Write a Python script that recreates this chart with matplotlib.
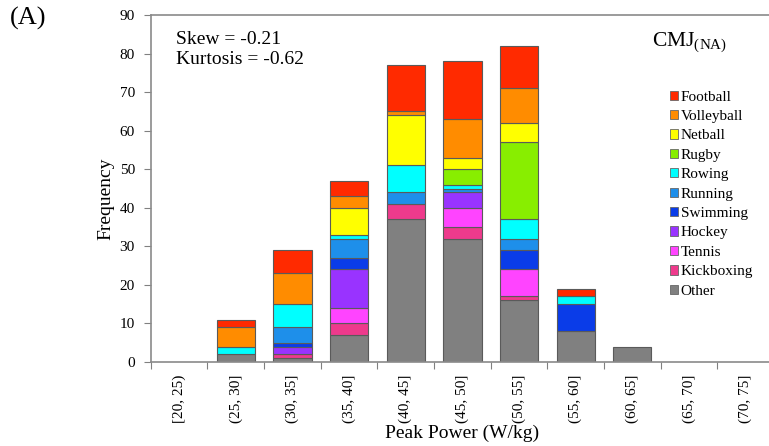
import numpy as np
import matplotlib
matplotlib.use("Agg")
import matplotlib.pyplot as plt
from matplotlib.patches import Patch

plt.rcParams['font.family'] = ['Liberation Serif', 'DejaVu Serif']
plt.rcParams['mathtext.fontset'] = 'custom'
plt.rcParams['mathtext.rm'] = 'Liberation Serif'
plt.rcParams['mathtext.it'] = 'Liberation Serif:italic'

bins = ["[20, 25)", "(25, 30]", "(30, 35]", "(35, 40]", "(40, 45]", "(45, 50]",
        "(50, 55]", "(55, 60]", "(60, 65]", "(65, 70]", "(70, 75]"]

other      = [0, 2, 1, 7, 37, 32, 16, 8, 4, 0, 0]
kickboxing = [0, 0, 1, 3, 4, 3, 1, 0, 0, 0, 0]
tennis     = [0, 0, 0, 4, 0, 5, 7, 0, 0, 0, 0]
hockey     = [0, 0, 2, 10, 0, 4, 0, 0, 0, 0, 0]
swimming   = [0, 0, 1, 3, 0, 0, 5, 7, 0, 0, 0]
running    = [0, 0, 4, 5, 3, 1, 3, 0, 0, 0, 0]
rowing     = [0, 2, 6, 1, 7, 1, 5, 2, 0, 0, 0]
rugby      = [0, 0, 0, 0, 0, 4, 20, 0, 0, 0, 0]
netball    = [0, 0, 0, 7, 13, 3, 5, 0, 0, 0, 0]
volleyball = [0, 5, 8, 3, 1, 10, 9, 0, 0, 0, 0]
football   = [0, 2, 6, 4, 12, 15, 11, 2, 0, 0, 0]

series = [
    ("Other", other, "#808080"),
    ("Kickboxing", kickboxing, "#EE3A8C"),
    ("Tennis", tennis, "#FF44FF"),
    ("Hockey", hockey, "#9933FF"),
    ("Swimming", swimming, "#0A3CE8"),
    ("Running", running, "#1E8FEA"),
    ("Rowing", rowing, "#00FFFF"),
    ("Rugby", rugby, "#88EE00"),
    ("Netball", netball, "#FFFF00"),
    ("Volleyball", volleyball, "#FF8C00"),
    ("Football", football, "#FF2A00"),
]

fig = plt.figure(figsize=(7.69, 4.46), dpi=100)
ax = fig.add_axes([150.8 / 769, (446 - 362) / 446, (774 - 150.8) / 769, (362 - 15) / 446])

x = np.arange(len(bins))
bottom = np.zeros(len(bins))
handles = []
for name, vals, col in series:
    v = np.array(vals, dtype=float)
    lw = [0.8 if val > 0 else 0 for val in v]
    ax.bar(x, v, bottom=bottom, width=0.675, color=col, edgecolor="#5a5a5a", linewidth=lw)
    bottom += v
    handles.append(Patch(facecolor=col, edgecolor="#666666", linewidth=0.6, label=name))

ax.set_xlim(-0.5, len(bins) - 0.5)
ax.set_ylim(0, 90)
ax.set_yticks(np.arange(0, 91, 10))
ax.set_xticks(np.arange(-0.5, len(bins), 1.0))
ax.set_xticklabels([])
ax.set_xticks(x, minor=True)
ax.set_xticklabels(bins, minor=True, rotation=90, fontsize=11)
ax.tick_params(axis='x', which='minor', length=0, pad=9)
ax.tick_params(axis='x', which='major', direction='out', length=5, color="#808080")
ax.tick_params(axis='y', direction='out', length=5, color="#808080", labelsize=11, pad=6.5)

for s in ['left', 'bottom', 'top']:
    ax.spines[s].set_color("#8a8a8a")
    ax.spines[s].set_linewidth(1.2)
ax.spines['right'].set_visible(False)

ax.set_ylabel("Frequency", fontsize=14)
ax.yaxis.set_label_coords(-0.058, 0.47)
ax.set_xlabel("Peak Power (W/kg)", fontsize=14)
ax.xaxis.set_label_coords(0.5, -0.18)

fig.text(10 / 769, 1 - 18 / 446, "(A)", fontsize=19, va='center', ha='left')
fig.text(176 / 769, 1 - 40 / 446, "Skew = -0.21", fontsize=14, va='center', ha='left')
fig.text(176 / 769, 1 - 60 / 446, "Kurtosis = -0.62", fontsize=14, va='center', ha='left')

fig.text(652 / 769, 1 - 42 / 446, r"CMJ$_{\mathrm{(NA)}}$", fontsize=15.5, va='center', ha='left')

leg = fig.legend(handles=handles[::-1], loc='upper left',
                 bbox_to_anchor=(670 / 769, 1 - 90.5 / 446), frameon=False,
                 fontsize=11, handlelength=0.55, handleheight=0.55,
                 handletextpad=0.15, labelspacing=0.42, borderaxespad=0, borderpad=0)

fig.savefig("out.png", dpi=100)
